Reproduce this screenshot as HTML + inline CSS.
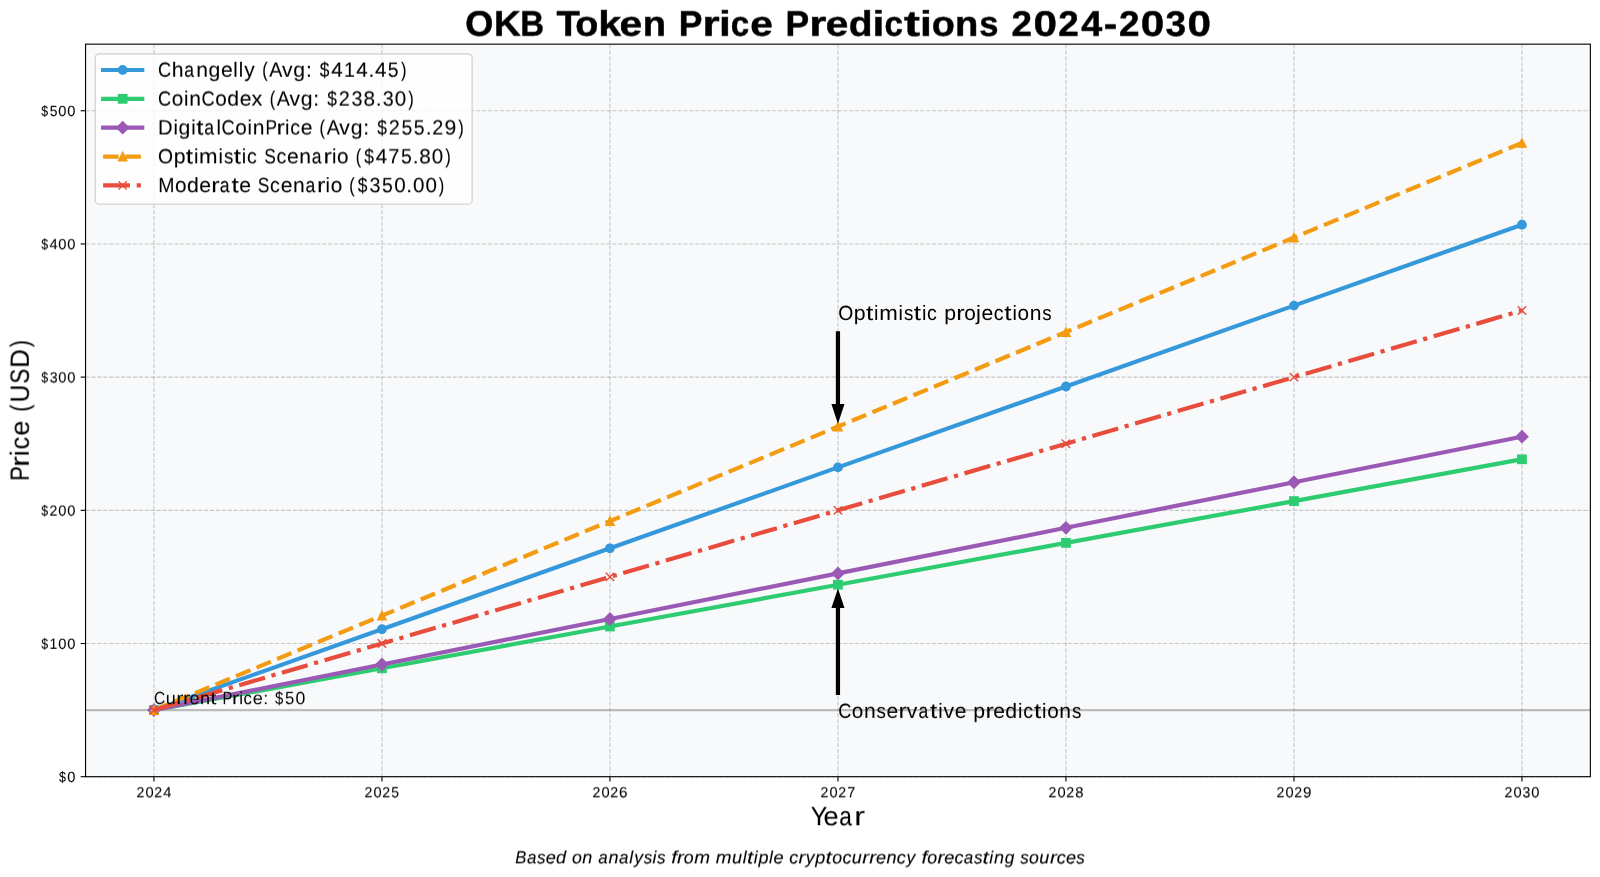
<!DOCTYPE html>
<html><head><meta charset="utf-8"><title>OKB Token Price Predictions 2024-2030</title><style>
html,body{margin:0;padding:0;background:#fff;width:1600px;height:877px;overflow:hidden}
svg{display:block}
text{font-family:"Liberation Sans",sans-serif;will-change:transform;text-rendering:geometricPrecision}
</style></head><body>
<svg width="1600" height="877" viewBox="0 0 1600 877">
<rect x="0" y="0" width="1600" height="877" fill="#fff"/>
<rect x="85.54" y="44.16" width="1504.82" height="732.54" fill="#f8f9fa"/>
<g stroke="#b0b0b0" stroke-opacity="0.7" stroke-width="1.12" stroke-dasharray="4.13 1.79" fill="none">
<path d="M153.94 776.7V44.16"/>
<path d="M381.94 776.7V44.16"/>
<path d="M609.95 776.7V44.16"/>
<path d="M837.95 776.7V44.16"/>
<path d="M1065.95 776.7V44.16"/>
<path d="M1293.96 776.7V44.16"/>
<path d="M1521.96 776.7V44.16"/>
<path d="M85.54 776.7H1590.36"/>
<path d="M85.54 643.51H1590.36"/>
<path d="M85.54 510.32H1590.36"/>
<path d="M85.54 377.13H1590.36"/>
<path d="M85.54 243.94H1590.36"/>
<path d="M85.54 110.75H1590.36"/>
</g>
<g stroke="#000" stroke-width="1.12">
<path d="M153.94 776.7v4.89"/>
<path d="M381.94 776.7v4.89"/>
<path d="M609.95 776.7v4.89"/>
<path d="M837.95 776.7v4.89"/>
<path d="M1065.95 776.7v4.89"/>
<path d="M1293.96 776.7v4.89"/>
<path d="M1521.96 776.7v4.89"/>
<path d="M85.54 776.7h-4.89"/>
<path d="M85.54 643.51h-4.89"/>
<path d="M85.54 510.32h-4.89"/>
<path d="M85.54 377.13h-4.89"/>
<path d="M85.54 243.94h-4.89"/>
<path d="M85.54 110.75h-4.89"/>
</g>
<text transform="translate(154.06 797.35) rotate(0.01) translate(-154.06 0)" font-size="14.79" fill="#000" stroke="#000" stroke-width="0.08" stroke-linejoin="round"><tspan x="136.51" textLength="7.89" lengthAdjust="spacingAndGlyphs">2</tspan><tspan x="145.41" textLength="8.18" lengthAdjust="spacingAndGlyphs">0</tspan><tspan x="154.25" textLength="7.89" lengthAdjust="spacingAndGlyphs">2</tspan><tspan x="163.16" textLength="8.18" lengthAdjust="spacingAndGlyphs">4</tspan></text>
<text transform="translate(381.85 797.35) rotate(0.01) translate(-381.85 0)" font-size="14.79" fill="#000" stroke="#000" stroke-width="0.08" stroke-linejoin="round"><tspan x="364.51" textLength="7.89" lengthAdjust="spacingAndGlyphs">2</tspan><tspan x="373.42" textLength="8.18" lengthAdjust="spacingAndGlyphs">0</tspan><tspan x="382.25" textLength="7.89" lengthAdjust="spacingAndGlyphs">2</tspan><tspan x="391.34" textLength="7.72" lengthAdjust="spacingAndGlyphs">5</tspan></text>
<text transform="translate(610.02 797.35) rotate(0.01) translate(-610.02 0)" font-size="14.79" fill="#000" stroke="#000" stroke-width="0.08" stroke-linejoin="round"><tspan x="592.51" textLength="7.89" lengthAdjust="spacingAndGlyphs">2</tspan><tspan x="601.42" textLength="8.18" lengthAdjust="spacingAndGlyphs">0</tspan><tspan x="610.26" textLength="7.89" lengthAdjust="spacingAndGlyphs">2</tspan><tspan x="619.02" textLength="8.47" lengthAdjust="spacingAndGlyphs">6</tspan></text>
<text transform="translate(837.87 797.35) rotate(0.01) translate(-837.87 0)" font-size="14.79" fill="#000" stroke="#000" stroke-width="0.08" stroke-linejoin="round"><tspan x="820.51" textLength="7.89" lengthAdjust="spacingAndGlyphs">2</tspan><tspan x="829.42" textLength="8.18" lengthAdjust="spacingAndGlyphs">0</tspan><tspan x="838.26" textLength="7.89" lengthAdjust="spacingAndGlyphs">2</tspan><tspan x="847.23" textLength="8" lengthAdjust="spacingAndGlyphs">7</tspan></text>
<text transform="translate(1065.99 797.35) rotate(0.01) translate(-1065.99 0)" font-size="14.79" fill="#000" stroke="#000" stroke-width="0.08" stroke-linejoin="round"><tspan x="1048.52" textLength="7.89" lengthAdjust="spacingAndGlyphs">2</tspan><tspan x="1057.43" textLength="8.18" lengthAdjust="spacingAndGlyphs">0</tspan><tspan x="1066.26" textLength="7.89" lengthAdjust="spacingAndGlyphs">2</tspan><tspan x="1075.13" textLength="8.27" lengthAdjust="spacingAndGlyphs">8</tspan></text>
<text transform="translate(1293.98 797.35) rotate(0.01) translate(-1293.98 0)" font-size="14.79" fill="#000" stroke="#000" stroke-width="0.08" stroke-linejoin="round"><tspan x="1276.52" textLength="7.89" lengthAdjust="spacingAndGlyphs">2</tspan><tspan x="1285.43" textLength="8.18" lengthAdjust="spacingAndGlyphs">0</tspan><tspan x="1294.26" textLength="7.89" lengthAdjust="spacingAndGlyphs">2</tspan><tspan x="1302.99" textLength="8.45" lengthAdjust="spacingAndGlyphs">9</tspan></text>
<text transform="translate(1522.01 797.35) rotate(0.01) translate(-1522.01 0)" font-size="14.79" fill="#000" stroke="#000" stroke-width="0.08" stroke-linejoin="round"><tspan x="1504.52" textLength="7.89" lengthAdjust="spacingAndGlyphs">2</tspan><tspan x="1513.43" textLength="8.18" lengthAdjust="spacingAndGlyphs">0</tspan><tspan x="1522.48" textLength="7.86" lengthAdjust="spacingAndGlyphs">3</tspan><tspan x="1531.18" textLength="8.18" lengthAdjust="spacingAndGlyphs">0</tspan></text>
<text transform="translate(67.02 782.03) rotate(0.01) translate(-67.02 0)" font-size="14.79" fill="#000" stroke="#000" stroke-width="0.08" stroke-linejoin="round"><tspan x="59.05" textLength="6.9" lengthAdjust="spacingAndGlyphs">$</tspan><tspan x="67.24" textLength="8.18" lengthAdjust="spacingAndGlyphs">0</tspan></text>
<text transform="translate(58.14 648.84) rotate(0.01) translate(-58.14 0)" font-size="14.79" fill="#000" stroke="#000" stroke-width="0.08" stroke-linejoin="round"><tspan x="41.31" textLength="6.9" lengthAdjust="spacingAndGlyphs">$</tspan><tspan x="49.61" textLength="7.82" lengthAdjust="spacingAndGlyphs">1</tspan><tspan x="58.37" textLength="8.18" lengthAdjust="spacingAndGlyphs">0</tspan><tspan x="67.24" textLength="8.18" lengthAdjust="spacingAndGlyphs">0</tspan></text>
<text transform="translate(58.14 515.65) rotate(0.01) translate(-58.14 0)" font-size="14.79" fill="#000" stroke="#000" stroke-width="0.08" stroke-linejoin="round"><tspan x="41.31" textLength="6.9" lengthAdjust="spacingAndGlyphs">$</tspan><tspan x="49.46" textLength="7.89" lengthAdjust="spacingAndGlyphs">2</tspan><tspan x="58.37" textLength="8.18" lengthAdjust="spacingAndGlyphs">0</tspan><tspan x="67.24" textLength="8.18" lengthAdjust="spacingAndGlyphs">0</tspan></text>
<text transform="translate(58.14 382.46) rotate(0.01) translate(-58.14 0)" font-size="14.79" fill="#000" stroke="#000" stroke-width="0.08" stroke-linejoin="round"><tspan x="41.31" textLength="6.9" lengthAdjust="spacingAndGlyphs">$</tspan><tspan x="49.68" textLength="7.86" lengthAdjust="spacingAndGlyphs">3</tspan><tspan x="58.37" textLength="8.18" lengthAdjust="spacingAndGlyphs">0</tspan><tspan x="67.24" textLength="8.18" lengthAdjust="spacingAndGlyphs">0</tspan></text>
<text transform="translate(58.14 249.27) rotate(0.01) translate(-58.14 0)" font-size="14.79" fill="#000" stroke="#000" stroke-width="0.08" stroke-linejoin="round"><tspan x="41.31" textLength="6.9" lengthAdjust="spacingAndGlyphs">$</tspan><tspan x="49.5" textLength="8.18" lengthAdjust="spacingAndGlyphs">4</tspan><tspan x="58.37" textLength="8.18" lengthAdjust="spacingAndGlyphs">0</tspan><tspan x="67.24" textLength="8.18" lengthAdjust="spacingAndGlyphs">0</tspan></text>
<text transform="translate(58.14 116.08) rotate(0.01) translate(-58.14 0)" font-size="14.79" fill="#000" stroke="#000" stroke-width="0.08" stroke-linejoin="round"><tspan x="41.31" textLength="6.9" lengthAdjust="spacingAndGlyphs">$</tspan><tspan x="49.67" textLength="7.72" lengthAdjust="spacingAndGlyphs">5</tspan><tspan x="58.37" textLength="8.18" lengthAdjust="spacingAndGlyphs">0</tspan><tspan x="67.24" textLength="8.18" lengthAdjust="spacingAndGlyphs">0</tspan></text>
<path d="M85.54 710.11H1590.36" stroke="#808080" stroke-opacity="0.5" stroke-width="2.09" fill="none"/>
<path d="M153.94 710.11 L381.94 629.2 L609.95 548.3 L837.95 467.4 L1065.95 386.5 L1293.96 305.6 L1521.96 224.7" fill="none" stroke="#3498db" stroke-width="4.19" stroke-linecap="square" stroke-linejoin="round"/>
<circle cx="153.94" cy="710.11" r="4.19" fill="#3498db" stroke="#3498db" stroke-width="1.4"/>
<circle cx="381.94" cy="629.2" r="4.19" fill="#3498db" stroke="#3498db" stroke-width="1.4"/>
<circle cx="609.95" cy="548.3" r="4.19" fill="#3498db" stroke="#3498db" stroke-width="1.4"/>
<circle cx="837.95" cy="467.4" r="4.19" fill="#3498db" stroke="#3498db" stroke-width="1.4"/>
<circle cx="1065.95" cy="386.5" r="4.19" fill="#3498db" stroke="#3498db" stroke-width="1.4"/>
<circle cx="1293.96" cy="305.6" r="4.19" fill="#3498db" stroke="#3498db" stroke-width="1.4"/>
<circle cx="1521.96" cy="224.7" r="4.19" fill="#3498db" stroke="#3498db" stroke-width="1.4"/>
<path d="M153.94 710.11 L381.94 668.31 L609.95 626.51 L837.95 584.71 L1065.95 542.91 L1293.96 501.11 L1521.96 459.31" fill="none" stroke="#2ecc71" stroke-width="4.19" stroke-linecap="square" stroke-linejoin="round"/>
<rect x="149.75" y="705.92" width="8.37" height="8.37" fill="#2ecc71" stroke="#2ecc71" stroke-width="1.4"/>
<rect x="377.76" y="664.12" width="8.37" height="8.37" fill="#2ecc71" stroke="#2ecc71" stroke-width="1.4"/>
<rect x="605.76" y="622.32" width="8.37" height="8.37" fill="#2ecc71" stroke="#2ecc71" stroke-width="1.4"/>
<rect x="833.76" y="580.52" width="8.37" height="8.37" fill="#2ecc71" stroke="#2ecc71" stroke-width="1.4"/>
<rect x="1061.77" y="538.72" width="8.37" height="8.37" fill="#2ecc71" stroke="#2ecc71" stroke-width="1.4"/>
<rect x="1289.77" y="496.92" width="8.37" height="8.37" fill="#2ecc71" stroke="#2ecc71" stroke-width="1.4"/>
<rect x="1517.77" y="455.12" width="8.37" height="8.37" fill="#2ecc71" stroke="#2ecc71" stroke-width="1.4"/>
<path d="M153.94 710.11 L381.94 664.53 L609.95 618.96 L837.95 573.39 L1065.95 527.82 L1293.96 482.25 L1521.96 436.68" fill="none" stroke="#9b59b6" stroke-width="4.19" stroke-linecap="square" stroke-linejoin="round"/>
<path d="M153.94 704.18L159.86 710.11L153.94 716.03L148.02 710.11Z" fill="#9b59b6" stroke="#9b59b6" stroke-width="1.4"/>
<path d="M381.94 658.61L387.87 664.53L381.94 670.46L376.02 664.53Z" fill="#9b59b6" stroke="#9b59b6" stroke-width="1.4"/>
<path d="M609.95 613.04L615.87 618.96L609.95 624.89L604.02 618.96Z" fill="#9b59b6" stroke="#9b59b6" stroke-width="1.4"/>
<path d="M837.95 567.47L843.87 573.39L837.95 579.32L832.03 573.39Z" fill="#9b59b6" stroke="#9b59b6" stroke-width="1.4"/>
<path d="M1065.95 521.9L1071.88 527.82L1065.95 533.74L1060.03 527.82Z" fill="#9b59b6" stroke="#9b59b6" stroke-width="1.4"/>
<path d="M1293.96 476.33L1299.88 482.25L1293.96 488.17L1288.03 482.25Z" fill="#9b59b6" stroke="#9b59b6" stroke-width="1.4"/>
<path d="M1521.96 430.76L1527.88 436.68L1521.96 442.6L1516.04 436.68Z" fill="#9b59b6" stroke="#9b59b6" stroke-width="1.4"/>
<path d="M153.94 710.11 L381.94 615.59 L609.95 521.07 L837.95 426.55 L1065.95 332.03 L1293.96 237.51 L1521.96 142.99" fill="none" stroke="#f39c12" stroke-width="4.19" stroke-linecap="butt" stroke-linejoin="round" stroke-dasharray="15.51 6.71"/>
<path d="M153.94 705.92L149.75 714.29L158.13 714.29Z" fill="#f39c12" stroke="#f39c12" stroke-width="1.4"/>
<path d="M381.94 611.4L377.76 619.77L386.13 619.77Z" fill="#f39c12" stroke="#f39c12" stroke-width="1.4"/>
<path d="M609.95 516.88L605.76 525.25L614.13 525.25Z" fill="#f39c12" stroke="#f39c12" stroke-width="1.4"/>
<path d="M837.95 422.36L833.76 430.73L842.14 430.73Z" fill="#f39c12" stroke="#f39c12" stroke-width="1.4"/>
<path d="M1065.95 327.84L1061.77 336.21L1070.14 336.21Z" fill="#f39c12" stroke="#f39c12" stroke-width="1.4"/>
<path d="M1293.96 233.32L1289.77 241.69L1298.14 241.69Z" fill="#f39c12" stroke="#f39c12" stroke-width="1.4"/>
<path d="M1521.96 138.8L1517.77 147.17L1526.15 147.17Z" fill="#f39c12" stroke="#f39c12" stroke-width="1.4"/>
<path d="M153.94 710.11 L381.94 643.51 L609.95 576.92 L837.95 510.32 L1065.95 443.73 L1293.96 377.13 L1521.96 310.54" fill="none" stroke="#e74c3c" stroke-width="4.19" stroke-linecap="butt" stroke-linejoin="round" stroke-dasharray="26.83 6.71 4.19 6.71"/>
<path d="M149.75 714.29L158.13 705.92M149.75 705.92L158.13 714.29" fill="none" stroke="#e74c3c" stroke-width="1.4"/>
<path d="M377.76 647.7L386.13 639.32M377.76 639.32L386.13 647.7" fill="none" stroke="#e74c3c" stroke-width="1.4"/>
<path d="M605.76 581.1L614.13 572.73M605.76 572.73L614.13 581.1" fill="none" stroke="#e74c3c" stroke-width="1.4"/>
<path d="M833.76 514.51L842.14 506.13M833.76 506.13L842.14 514.51" fill="none" stroke="#e74c3c" stroke-width="1.4"/>
<path d="M1061.77 447.91L1070.14 439.54M1061.77 439.54L1070.14 447.91" fill="none" stroke="#e74c3c" stroke-width="1.4"/>
<path d="M1289.77 381.32L1298.14 372.95M1289.77 372.95L1298.14 381.32" fill="none" stroke="#e74c3c" stroke-width="1.4"/>
<path d="M1517.77 314.73L1526.15 306.35M1517.77 306.35L1526.15 314.73" fill="none" stroke="#e74c3c" stroke-width="1.4"/>
<rect x="85.54" y="44.16" width="1504.82" height="732.54" fill="none" stroke="#000" stroke-width="1.12" stroke-linejoin="miter"/>
<text transform="translate(229.73 704.15) rotate(0.01) translate(-229.73 0)" font-size="17.75" fill="#000"><tspan x="154.09" textLength="11.23" lengthAdjust="spacingAndGlyphs">C</tspan><tspan x="165.86" textLength="10.04" lengthAdjust="spacingAndGlyphs">u</tspan><tspan x="176.29" textLength="7.15" lengthAdjust="spacingAndGlyphs">r</tspan><tspan x="182.91" textLength="7.15" lengthAdjust="spacingAndGlyphs">r</tspan><tspan x="189.46" textLength="10.06" lengthAdjust="spacingAndGlyphs">e</tspan><tspan x="199.91" textLength="10.04" lengthAdjust="spacingAndGlyphs">n</tspan><tspan x="210.29" textLength="6.22" lengthAdjust="spacingAndGlyphs">t</tspan> <tspan x="222.47" textLength="9.88" lengthAdjust="spacingAndGlyphs">P</tspan><tspan x="231.96" textLength="7.15" lengthAdjust="spacingAndGlyphs">r</tspan><tspan x="239.16" textLength="3.8" lengthAdjust="spacingAndGlyphs">i</tspan><tspan x="243.58" textLength="8.4" lengthAdjust="spacingAndGlyphs">c</tspan><tspan x="252.72" textLength="10.06" lengthAdjust="spacingAndGlyphs">e</tspan><tspan x="263.15" textLength="5.04" lengthAdjust="spacingAndGlyphs">:</tspan> <tspan x="275.01" textLength="8.28" lengthAdjust="spacingAndGlyphs">$</tspan><tspan x="285.03" textLength="9.27" lengthAdjust="spacingAndGlyphs">5</tspan><tspan x="295.45" textLength="9.82" lengthAdjust="spacingAndGlyphs">0</tspan></text>
<path d="M839.35 331.9 L839.35 404.67 L843.53 404.67 L837.95 421.42 L832.37 404.67 L836.55 404.67 L836.55 331.9Z" fill="#000" stroke="#000" stroke-width="1.4" stroke-linejoin="miter" stroke-miterlimit="10"/>
<path d="M839.35 694.21 L839.35 607.37 L843.53 607.37 L837.95 590.62 L832.37 607.37 L836.55 607.37 L836.55 694.21Z" fill="#000" stroke="#000" stroke-width="1.4" stroke-linejoin="miter" stroke-miterlimit="10"/>
<text transform="translate(945.01 319.99) rotate(0.01) translate(-945.01 0)" font-size="20.71" fill="#000" stroke="#000" stroke-width="0.03" stroke-linejoin="round"><tspan x="838.13" textLength="15.03" lengthAdjust="spacingAndGlyphs">O</tspan><tspan x="853.78" textLength="11.82" lengthAdjust="spacingAndGlyphs">p</tspan><tspan x="865.94" textLength="7.26" lengthAdjust="spacingAndGlyphs">t</tspan><tspan x="874" textLength="4.44" lengthAdjust="spacingAndGlyphs">i</tspan><tspan x="879.24" textLength="18.55" lengthAdjust="spacingAndGlyphs">m</tspan><tspan x="898.54" textLength="4.44" lengthAdjust="spacingAndGlyphs">i</tspan><tspan x="904.02" textLength="9.37" lengthAdjust="spacingAndGlyphs">s</tspan><tspan x="913.82" textLength="7.26" lengthAdjust="spacingAndGlyphs">t</tspan><tspan x="921.88" textLength="4.44" lengthAdjust="spacingAndGlyphs">i</tspan><tspan x="927.06" textLength="9.8" lengthAdjust="spacingAndGlyphs">c</tspan> <tspan x="944.23" textLength="11.82" lengthAdjust="spacingAndGlyphs">p</tspan><tspan x="956.37" textLength="8.34" lengthAdjust="spacingAndGlyphs">r</tspan><tspan x="964.15" textLength="11.55" lengthAdjust="spacingAndGlyphs">o</tspan><tspan x="976.12" textLength="4.9" lengthAdjust="spacingAndGlyphs">j</tspan><tspan x="981.56" textLength="11.74" lengthAdjust="spacingAndGlyphs">e</tspan><tspan x="993.68" textLength="9.8" lengthAdjust="spacingAndGlyphs">c</tspan><tspan x="1004.34" textLength="7.26" lengthAdjust="spacingAndGlyphs">t</tspan><tspan x="1012.4" textLength="4.44" lengthAdjust="spacingAndGlyphs">i</tspan><tspan x="1017.54" textLength="11.55" lengthAdjust="spacingAndGlyphs">o</tspan><tspan x="1029.7" textLength="11.72" lengthAdjust="spacingAndGlyphs">n</tspan><tspan x="1042.29" textLength="9.37" lengthAdjust="spacingAndGlyphs">s</tspan></text>
<text transform="translate(959.82 717.9) rotate(0.01) translate(-959.82 0)" font-size="20.71" fill="#000" stroke="#000" stroke-width="0.03" stroke-linejoin="round"><tspan x="838.13" textLength="13.1" lengthAdjust="spacingAndGlyphs">C</tspan><tspan x="851.84" textLength="11.55" lengthAdjust="spacingAndGlyphs">o</tspan><tspan x="864" textLength="11.72" lengthAdjust="spacingAndGlyphs">n</tspan><tspan x="876.58" textLength="9.37" lengthAdjust="spacingAndGlyphs">s</tspan><tspan x="886.44" textLength="11.74" lengthAdjust="spacingAndGlyphs">e</tspan><tspan x="898.42" textLength="8.34" lengthAdjust="spacingAndGlyphs">r</tspan><tspan x="906.88" textLength="10.54" lengthAdjust="spacingAndGlyphs">v</tspan><tspan x="918.39" textLength="9.77" lengthAdjust="spacingAndGlyphs">a</tspan><tspan x="930.11" textLength="7.26" lengthAdjust="spacingAndGlyphs">t</tspan><tspan x="938.17" textLength="4.44" lengthAdjust="spacingAndGlyphs">i</tspan><tspan x="943.61" textLength="10.54" lengthAdjust="spacingAndGlyphs">v</tspan><tspan x="954.88" textLength="11.74" lengthAdjust="spacingAndGlyphs">e</tspan> <tspan x="973.39" textLength="11.82" lengthAdjust="spacingAndGlyphs">p</tspan><tspan x="985.54" textLength="8.34" lengthAdjust="spacingAndGlyphs">r</tspan><tspan x="993.29" textLength="11.74" lengthAdjust="spacingAndGlyphs">e</tspan><tspan x="1005.35" textLength="11.81" lengthAdjust="spacingAndGlyphs">d</tspan><tspan x="1018.11" textLength="4.44" lengthAdjust="spacingAndGlyphs">i</tspan><tspan x="1023.3" textLength="9.8" lengthAdjust="spacingAndGlyphs">c</tspan><tspan x="1033.96" textLength="7.26" lengthAdjust="spacingAndGlyphs">t</tspan><tspan x="1042.01" textLength="4.44" lengthAdjust="spacingAndGlyphs">i</tspan><tspan x="1047.16" textLength="11.55" lengthAdjust="spacingAndGlyphs">o</tspan><tspan x="1059.32" textLength="11.72" lengthAdjust="spacingAndGlyphs">n</tspan><tspan x="1071.9" textLength="9.37" lengthAdjust="spacingAndGlyphs">s</tspan></text>
<rect x="95.31" y="53.93" width="376.83" height="150.2" rx="3.91" ry="3.91" fill="#fff" fill-opacity="0.8" stroke="#ccc" stroke-opacity="0.8" stroke-width="1.4"/>
<path d="M103.13 69.98 L142.21 69.98" fill="none" stroke="#3498db" stroke-width="4.19" stroke-linecap="square" stroke-linejoin="round"/>
<circle cx="122.67" cy="69.98" r="4.19" fill="#3498db" stroke="#3498db" stroke-width="1.4"/>
<text transform="translate(282.15 76.76) rotate(0.01) translate(-282.15 0)" font-size="20.71" fill="#000" stroke="#000" stroke-width="0.08" stroke-linejoin="round"><tspan x="158.02" textLength="13.1" lengthAdjust="spacingAndGlyphs">C</tspan><tspan x="171.83" textLength="11.8" lengthAdjust="spacingAndGlyphs">h</tspan><tspan x="184.37" textLength="9.77" lengthAdjust="spacingAndGlyphs">a</tspan><tspan x="196.33" textLength="11.72" lengthAdjust="spacingAndGlyphs">n</tspan><tspan x="208.56" textLength="11.81" lengthAdjust="spacingAndGlyphs">g</tspan><tspan x="221" textLength="11.74" lengthAdjust="spacingAndGlyphs">e</tspan><tspan x="233.37" textLength="4.44" lengthAdjust="spacingAndGlyphs">l</tspan><tspan x="238.81" textLength="4.44" lengthAdjust="spacingAndGlyphs">l</tspan><tspan x="244.29" textLength="10.49" lengthAdjust="spacingAndGlyphs">y</tspan> <tspan x="262.24" textLength="5.5" lengthAdjust="spacingAndGlyphs">(</tspan><tspan x="269.35" textLength="13.13" lengthAdjust="spacingAndGlyphs">A</tspan><tspan x="282.02" textLength="10.54" lengthAdjust="spacingAndGlyphs">v</tspan><tspan x="293.29" textLength="11.81" lengthAdjust="spacingAndGlyphs">g</tspan><tspan x="305.91" textLength="5.87" lengthAdjust="spacingAndGlyphs">:</tspan> <tspan x="319.81" textLength="9.66" lengthAdjust="spacingAndGlyphs">$</tspan><tspan x="331.33" textLength="11.46" lengthAdjust="spacingAndGlyphs">4</tspan><tspan x="343.96" textLength="10.94" lengthAdjust="spacingAndGlyphs">1</tspan><tspan x="356.27" textLength="11.46" lengthAdjust="spacingAndGlyphs">4</tspan><tspan x="368.41" textLength="5.87" lengthAdjust="spacingAndGlyphs">.</tspan><tspan x="374.96" textLength="11.46" lengthAdjust="spacingAndGlyphs">4</tspan><tspan x="387.68" textLength="10.81" lengthAdjust="spacingAndGlyphs">5</tspan><tspan x="400.89" textLength="5.5" lengthAdjust="spacingAndGlyphs">)</tspan></text>
<path d="M103.13 98.84 L142.21 98.84" fill="none" stroke="#2ecc71" stroke-width="4.19" stroke-linecap="square" stroke-linejoin="round"/>
<rect x="118.48" y="94.66" width="8.37" height="8.37" fill="#2ecc71" stroke="#2ecc71" stroke-width="1.4"/>
<text transform="translate(285.86 105.63) rotate(0.01) translate(-285.86 0)" font-size="20.71" fill="#000" stroke="#000" stroke-width="0.08" stroke-linejoin="round"><tspan x="158.02" textLength="13.1" lengthAdjust="spacingAndGlyphs">C</tspan><tspan x="171.73" textLength="11.55" lengthAdjust="spacingAndGlyphs">o</tspan><tspan x="184.02" textLength="4.44" lengthAdjust="spacingAndGlyphs">i</tspan><tspan x="189.33" textLength="11.72" lengthAdjust="spacingAndGlyphs">n</tspan><tspan x="201.56" textLength="13.1" lengthAdjust="spacingAndGlyphs">C</tspan><tspan x="215.27" textLength="11.55" lengthAdjust="spacingAndGlyphs">o</tspan><tspan x="227.24" textLength="11.81" lengthAdjust="spacingAndGlyphs">d</tspan><tspan x="239.67" textLength="11.74" lengthAdjust="spacingAndGlyphs">e</tspan><tspan x="251.49" textLength="10.84" lengthAdjust="spacingAndGlyphs">x</tspan> <tspan x="269.66" textLength="5.5" lengthAdjust="spacingAndGlyphs">(</tspan><tspan x="276.76" textLength="13.13" lengthAdjust="spacingAndGlyphs">A</tspan><tspan x="289.43" textLength="10.54" lengthAdjust="spacingAndGlyphs">v</tspan><tspan x="300.71" textLength="11.81" lengthAdjust="spacingAndGlyphs">g</tspan><tspan x="313.32" textLength="5.87" lengthAdjust="spacingAndGlyphs">:</tspan> <tspan x="327.23" textLength="9.66" lengthAdjust="spacingAndGlyphs">$</tspan><tspan x="338.69" textLength="11.04" lengthAdjust="spacingAndGlyphs">2</tspan><tspan x="351.46" textLength="11" lengthAdjust="spacingAndGlyphs">3</tspan><tspan x="363.62" textLength="11.58" lengthAdjust="spacingAndGlyphs">8</tspan><tspan x="375.82" textLength="5.87" lengthAdjust="spacingAndGlyphs">.</tspan><tspan x="382.63" textLength="11" lengthAdjust="spacingAndGlyphs">3</tspan><tspan x="394.85" textLength="11.46" lengthAdjust="spacingAndGlyphs">0</tspan><tspan x="408.3" textLength="5.5" lengthAdjust="spacingAndGlyphs">)</tspan></text>
<path d="M103.13 127.71 L142.21 127.71" fill="none" stroke="#9b59b6" stroke-width="4.19" stroke-linecap="square" stroke-linejoin="round"/>
<path d="M122.67 121.79L128.59 127.71L122.67 133.63L116.75 127.71Z" fill="#9b59b6" stroke="#9b59b6" stroke-width="1.4"/>
<text transform="translate(311.24 134.49) rotate(0.01) translate(-311.24 0)" font-size="20.71" fill="#000" stroke="#000" stroke-width="0.08" stroke-linejoin="round"><tspan x="158.1" textLength="14.6" lengthAdjust="spacingAndGlyphs">D</tspan><tspan x="173.44" textLength="4.44" lengthAdjust="spacingAndGlyphs">i</tspan><tspan x="178.56" textLength="11.81" lengthAdjust="spacingAndGlyphs">g</tspan><tspan x="191.32" textLength="4.44" lengthAdjust="spacingAndGlyphs">i</tspan><tspan x="196.39" textLength="7.26" lengthAdjust="spacingAndGlyphs">t</tspan><tspan x="204.37" textLength="9.77" lengthAdjust="spacingAndGlyphs">a</tspan><tspan x="216.45" textLength="4.44" lengthAdjust="spacingAndGlyphs">l</tspan><tspan x="221.57" textLength="13.1" lengthAdjust="spacingAndGlyphs">C</tspan><tspan x="235.29" textLength="11.55" lengthAdjust="spacingAndGlyphs">o</tspan><tspan x="247.58" textLength="4.44" lengthAdjust="spacingAndGlyphs">i</tspan><tspan x="252.89" textLength="11.72" lengthAdjust="spacingAndGlyphs">n</tspan><tspan x="265.44" textLength="11.53" lengthAdjust="spacingAndGlyphs">P</tspan><tspan x="276.49" textLength="8.34" lengthAdjust="spacingAndGlyphs">r</tspan><tspan x="284.94" textLength="4.44" lengthAdjust="spacingAndGlyphs">i</tspan><tspan x="290.13" textLength="9.8" lengthAdjust="spacingAndGlyphs">c</tspan><tspan x="300.84" textLength="11.74" lengthAdjust="spacingAndGlyphs">e</tspan> <tspan x="319.6" textLength="5.5" lengthAdjust="spacingAndGlyphs">(</tspan><tspan x="326.7" textLength="13.13" lengthAdjust="spacingAndGlyphs">A</tspan><tspan x="339.37" textLength="10.54" lengthAdjust="spacingAndGlyphs">v</tspan><tspan x="350.65" textLength="11.81" lengthAdjust="spacingAndGlyphs">g</tspan><tspan x="363.26" textLength="5.87" lengthAdjust="spacingAndGlyphs">:</tspan> <tspan x="377.17" textLength="9.66" lengthAdjust="spacingAndGlyphs">$</tspan><tspan x="388.63" textLength="11.04" lengthAdjust="spacingAndGlyphs">2</tspan><tspan x="401.4" textLength="10.81" lengthAdjust="spacingAndGlyphs">5</tspan><tspan x="413.87" textLength="10.81" lengthAdjust="spacingAndGlyphs">5</tspan><tspan x="425.77" textLength="5.87" lengthAdjust="spacingAndGlyphs">.</tspan><tspan x="432.27" textLength="11.04" lengthAdjust="spacingAndGlyphs">2</tspan><tspan x="444.54" textLength="11.83" lengthAdjust="spacingAndGlyphs">9</tspan><tspan x="458.24" textLength="5.5" lengthAdjust="spacingAndGlyphs">)</tspan></text>
<path d="M103.13 156.58 L142.21 156.58" fill="none" stroke="#f39c12" stroke-width="4.19" stroke-linecap="butt" stroke-linejoin="round" stroke-dasharray="15.51 6.71"/>
<path d="M122.67 152.39L118.48 160.76L126.86 160.76Z" fill="#f39c12" stroke="#f39c12" stroke-width="1.4"/>
<text transform="translate(304.35 163.36) rotate(0.01) translate(-304.35 0)" font-size="20.71" fill="#000" stroke="#000" stroke-width="0.08" stroke-linejoin="round"><tspan x="158.02" textLength="15.03" lengthAdjust="spacingAndGlyphs">O</tspan><tspan x="173.67" textLength="11.82" lengthAdjust="spacingAndGlyphs">p</tspan><tspan x="185.83" textLength="7.26" lengthAdjust="spacingAndGlyphs">t</tspan><tspan x="193.89" textLength="4.44" lengthAdjust="spacingAndGlyphs">i</tspan><tspan x="199.13" textLength="18.55" lengthAdjust="spacingAndGlyphs">m</tspan><tspan x="218.43" textLength="4.44" lengthAdjust="spacingAndGlyphs">i</tspan><tspan x="223.91" textLength="9.37" lengthAdjust="spacingAndGlyphs">s</tspan><tspan x="233.71" textLength="7.26" lengthAdjust="spacingAndGlyphs">t</tspan><tspan x="241.77" textLength="4.44" lengthAdjust="spacingAndGlyphs">i</tspan><tspan x="246.95" textLength="9.8" lengthAdjust="spacingAndGlyphs">c</tspan> <tspan x="264.21" textLength="11.62" lengthAdjust="spacingAndGlyphs">S</tspan><tspan x="276.4" textLength="9.8" lengthAdjust="spacingAndGlyphs">c</tspan><tspan x="287.11" textLength="11.74" lengthAdjust="spacingAndGlyphs">e</tspan><tspan x="299.36" textLength="11.72" lengthAdjust="spacingAndGlyphs">n</tspan><tspan x="311.83" textLength="9.77" lengthAdjust="spacingAndGlyphs">a</tspan><tspan x="323.53" textLength="8.34" lengthAdjust="spacingAndGlyphs">r</tspan><tspan x="331.98" textLength="4.44" lengthAdjust="spacingAndGlyphs">i</tspan><tspan x="337.12" textLength="11.55" lengthAdjust="spacingAndGlyphs">o</tspan> <tspan x="355.79" textLength="5.5" lengthAdjust="spacingAndGlyphs">(</tspan><tspan x="364.22" textLength="9.66" lengthAdjust="spacingAndGlyphs">$</tspan><tspan x="375.73" textLength="11.46" lengthAdjust="spacingAndGlyphs">4</tspan><tspan x="388.29" textLength="11.21" lengthAdjust="spacingAndGlyphs">7</tspan><tspan x="400.92" textLength="10.81" lengthAdjust="spacingAndGlyphs">5</tspan><tspan x="412.81" textLength="5.87" lengthAdjust="spacingAndGlyphs">.</tspan><tspan x="419.31" textLength="11.58" lengthAdjust="spacingAndGlyphs">8</tspan><tspan x="431.84" textLength="11.46" lengthAdjust="spacingAndGlyphs">0</tspan><tspan x="445.29" textLength="5.5" lengthAdjust="spacingAndGlyphs">)</tspan></text>
<path d="M103.13 185.44 L142.21 185.44" fill="none" stroke="#e74c3c" stroke-width="4.19" stroke-linecap="butt" stroke-linejoin="round" stroke-dasharray="26.83 6.71 4.19 6.71"/>
<path d="M118.48 189.63L126.86 181.25M118.48 181.25L126.86 189.63" fill="none" stroke="#e74c3c" stroke-width="1.4"/>
<text transform="translate(301.54 192.22) rotate(0.01) translate(-301.54 0)" font-size="20.71" fill="#000" stroke="#000" stroke-width="0.08" stroke-linejoin="round"><tspan x="158.16" textLength="16.23" lengthAdjust="spacingAndGlyphs">M</tspan><tspan x="174.95" textLength="11.55" lengthAdjust="spacingAndGlyphs">o</tspan><tspan x="186.92" textLength="11.81" lengthAdjust="spacingAndGlyphs">d</tspan><tspan x="199.36" textLength="11.74" lengthAdjust="spacingAndGlyphs">e</tspan><tspan x="211.35" textLength="8.34" lengthAdjust="spacingAndGlyphs">r</tspan><tspan x="219.72" textLength="9.77" lengthAdjust="spacingAndGlyphs">a</tspan><tspan x="231.43" textLength="7.26" lengthAdjust="spacingAndGlyphs">t</tspan><tspan x="239.17" textLength="11.74" lengthAdjust="spacingAndGlyphs">e</tspan> <tspan x="257.77" textLength="11.62" lengthAdjust="spacingAndGlyphs">S</tspan><tspan x="269.96" textLength="9.8" lengthAdjust="spacingAndGlyphs">c</tspan><tspan x="280.67" textLength="11.74" lengthAdjust="spacingAndGlyphs">e</tspan><tspan x="292.92" textLength="11.72" lengthAdjust="spacingAndGlyphs">n</tspan><tspan x="305.39" textLength="9.77" lengthAdjust="spacingAndGlyphs">a</tspan><tspan x="317.09" textLength="8.34" lengthAdjust="spacingAndGlyphs">r</tspan><tspan x="325.54" textLength="4.44" lengthAdjust="spacingAndGlyphs">i</tspan><tspan x="330.68" textLength="11.55" lengthAdjust="spacingAndGlyphs">o</tspan> <tspan x="349.35" textLength="5.5" lengthAdjust="spacingAndGlyphs">(</tspan><tspan x="357.78" textLength="9.66" lengthAdjust="spacingAndGlyphs">$</tspan><tspan x="369.54" textLength="11" lengthAdjust="spacingAndGlyphs">3</tspan><tspan x="382.01" textLength="10.81" lengthAdjust="spacingAndGlyphs">5</tspan><tspan x="394.23" textLength="11.46" lengthAdjust="spacingAndGlyphs">0</tspan><tspan x="406.37" textLength="5.87" lengthAdjust="spacingAndGlyphs">.</tspan><tspan x="412.93" textLength="11.46" lengthAdjust="spacingAndGlyphs">0</tspan><tspan x="425.4" textLength="11.46" lengthAdjust="spacingAndGlyphs">0</tspan><tspan x="438.85" textLength="5.5" lengthAdjust="spacingAndGlyphs">)</tspan></text>
<text transform="translate(837.95 35.78) rotate(0.01) translate(-837.95 0)" font-size="35.5" fill="#000" font-weight="bold" stroke="#000" stroke-width="0.45" stroke-linejoin="round"><tspan x="465.15" textLength="28.13" lengthAdjust="spacingAndGlyphs">O</tspan><tspan x="494.08" textLength="26.72" lengthAdjust="spacingAndGlyphs">K</tspan><tspan x="520.35" textLength="23.81" lengthAdjust="spacingAndGlyphs">B</tspan> <tspan x="556.45" textLength="23.35" lengthAdjust="spacingAndGlyphs">T</tspan><tspan x="575.16" textLength="23.09" lengthAdjust="spacingAndGlyphs">o</tspan><tspan x="598.18" textLength="22.94" lengthAdjust="spacingAndGlyphs">k</tspan><tspan x="619.52" textLength="22.64" lengthAdjust="spacingAndGlyphs">e</tspan><tspan x="642.72" textLength="23.3" lengthAdjust="spacingAndGlyphs">n</tspan> <tspan x="678.68" textLength="23.69" lengthAdjust="spacingAndGlyphs">P</tspan><tspan x="702.46" textLength="17.19" lengthAdjust="spacingAndGlyphs">r</tspan><tspan x="718.94" textLength="11.86" lengthAdjust="spacingAndGlyphs">i</tspan><tspan x="730.74" textLength="18.44" lengthAdjust="spacingAndGlyphs">c</tspan><tspan x="750.33" textLength="22.64" lengthAdjust="spacingAndGlyphs">e</tspan> <tspan x="785.61" textLength="23.69" lengthAdjust="spacingAndGlyphs">P</tspan><tspan x="809.39" textLength="17.19" lengthAdjust="spacingAndGlyphs">r</tspan><tspan x="825.88" textLength="22.64" lengthAdjust="spacingAndGlyphs">e</tspan><tspan x="848.69" textLength="23.83" lengthAdjust="spacingAndGlyphs">d</tspan><tspan x="872.63" textLength="11.86" lengthAdjust="spacingAndGlyphs">i</tspan><tspan x="884.43" textLength="18.44" lengthAdjust="spacingAndGlyphs">c</tspan><tspan x="904.03" textLength="15.97" lengthAdjust="spacingAndGlyphs">t</tspan><tspan x="920.04" textLength="11.86" lengthAdjust="spacingAndGlyphs">i</tspan><tspan x="931.67" textLength="23.09" lengthAdjust="spacingAndGlyphs">o</tspan><tspan x="955.05" textLength="23.3" lengthAdjust="spacingAndGlyphs">n</tspan><tspan x="979.14" textLength="19.26" lengthAdjust="spacingAndGlyphs">s</tspan> <tspan x="1011.64" textLength="20.5" lengthAdjust="spacingAndGlyphs">2</tspan><tspan x="1033.54" textLength="23.51" lengthAdjust="spacingAndGlyphs">0</tspan><tspan x="1058.32" textLength="20.5" lengthAdjust="spacingAndGlyphs">2</tspan><tspan x="1081.22" textLength="21.04" lengthAdjust="spacingAndGlyphs">4</tspan><tspan x="1103.86" textLength="13.47" lengthAdjust="spacingAndGlyphs">-</tspan><tspan x="1118.91" textLength="20.5" lengthAdjust="spacingAndGlyphs">2</tspan><tspan x="1140.81" textLength="23.51" lengthAdjust="spacingAndGlyphs">0</tspan><tspan x="1165.61" textLength="20.59" lengthAdjust="spacingAndGlyphs">3</tspan><tspan x="1187.49" textLength="23.51" lengthAdjust="spacingAndGlyphs">0</tspan></text>
<text transform="translate(837.93 825.24) rotate(0.01) translate(-837.93 0)" font-size="26.62" fill="#000" stroke="#000" stroke-width="0.08" stroke-linejoin="round"><tspan x="810.79" textLength="16.53" lengthAdjust="spacingAndGlyphs">Y</tspan><tspan x="823.57" textLength="15.09" lengthAdjust="spacingAndGlyphs">e</tspan><tspan x="839.34" textLength="12.57" lengthAdjust="spacingAndGlyphs">a</tspan><tspan x="854.33" textLength="10.72" lengthAdjust="spacingAndGlyphs">r</tspan></text>
<text transform="translate(28.8 410.43) rotate(-89.99)" y="0" font-size="26.62" fill="#000" stroke="#000" stroke-width="0.08" stroke-linejoin="round"><tspan x="-70.62" textLength="14.82" lengthAdjust="spacingAndGlyphs">P</tspan><tspan x="-56.47" textLength="10.72" lengthAdjust="spacingAndGlyphs">r</tspan><tspan x="-45.63" textLength="5.71" lengthAdjust="spacingAndGlyphs">i</tspan><tspan x="-38.99" textLength="12.61" lengthAdjust="spacingAndGlyphs">c</tspan><tspan x="-25.25" textLength="15.09" lengthAdjust="spacingAndGlyphs">e</tspan> <tspan x="-1.2" textLength="7.07" lengthAdjust="spacingAndGlyphs">(</tspan><tspan x="8.04" textLength="17.83" lengthAdjust="spacingAndGlyphs">U</tspan><tspan x="26.79" textLength="14.94" lengthAdjust="spacingAndGlyphs">S</tspan><tspan x="42.43" textLength="18.77" lengthAdjust="spacingAndGlyphs">D</tspan><tspan x="63.33" textLength="7.07" lengthAdjust="spacingAndGlyphs">)</tspan></text>
<text transform="translate(800.04 863.4) rotate(0.01) translate(-800.04 0)" font-size="17.75" fill="#000" font-style="italic" stroke="#000" stroke-width="0.1" stroke-linejoin="round"><tspan x="515.16" textLength="11.1" lengthAdjust="spacingAndGlyphs">B</tspan><tspan x="526.99" textLength="9.43" lengthAdjust="spacingAndGlyphs">a</tspan><tspan x="537.07" textLength="8.58" lengthAdjust="spacingAndGlyphs">s</tspan><tspan x="545.79" textLength="10.07" lengthAdjust="spacingAndGlyphs">e</tspan><tspan x="556.07" textLength="10.07" lengthAdjust="spacingAndGlyphs">d</tspan> <tspan x="572.02" textLength="9.85" lengthAdjust="spacingAndGlyphs">o</tspan><tspan x="582.34" textLength="10.01" lengthAdjust="spacingAndGlyphs">n</tspan> <tspan x="598.25" textLength="9.43" lengthAdjust="spacingAndGlyphs">a</tspan><tspan x="608.48" textLength="10.01" lengthAdjust="spacingAndGlyphs">n</tspan><tspan x="619.08" textLength="9.43" lengthAdjust="spacingAndGlyphs">a</tspan><tspan x="629.32" textLength="3.87" lengthAdjust="spacingAndGlyphs">l</tspan><tspan x="634.22" textLength="8.66" lengthAdjust="spacingAndGlyphs">y</tspan><tspan x="643.69" textLength="8.58" lengthAdjust="spacingAndGlyphs">s</tspan><tspan x="652.56" textLength="3.87" lengthAdjust="spacingAndGlyphs">i</tspan><tspan x="657.04" textLength="8.58" lengthAdjust="spacingAndGlyphs">s</tspan> <tspan x="671.34" textLength="5.77" lengthAdjust="spacingAndGlyphs">f</tspan><tspan x="677.04" textLength="6.81" lengthAdjust="spacingAndGlyphs">r</tspan><tspan x="683.85" textLength="9.85" lengthAdjust="spacingAndGlyphs">o</tspan><tspan x="694.16" textLength="15.78" lengthAdjust="spacingAndGlyphs">m</tspan> <tspan x="715.74" textLength="15.78" lengthAdjust="spacingAndGlyphs">m</tspan><tspan x="731.94" textLength="10.02" lengthAdjust="spacingAndGlyphs">u</tspan><tspan x="742.64" textLength="3.87" lengthAdjust="spacingAndGlyphs">l</tspan><tspan x="747.03" textLength="6.25" lengthAdjust="spacingAndGlyphs">t</tspan><tspan x="753.83" textLength="3.87" lengthAdjust="spacingAndGlyphs">i</tspan><tspan x="758.57" textLength="10.04" lengthAdjust="spacingAndGlyphs">p</tspan><tspan x="769.08" textLength="3.87" lengthAdjust="spacingAndGlyphs">l</tspan><tspan x="773.58" textLength="10.07" lengthAdjust="spacingAndGlyphs">e</tspan> <tspan x="789.19" textLength="9" lengthAdjust="spacingAndGlyphs">c</tspan><tspan x="798.44" textLength="6.81" lengthAdjust="spacingAndGlyphs">r</tspan><tspan x="805.63" textLength="8.66" lengthAdjust="spacingAndGlyphs">y</tspan><tspan x="815.35" textLength="10.04" lengthAdjust="spacingAndGlyphs">p</tspan><tspan x="825.61" textLength="6.25" lengthAdjust="spacingAndGlyphs">t</tspan><tspan x="832.3" textLength="9.85" lengthAdjust="spacingAndGlyphs">o</tspan><tspan x="842.51" textLength="9" lengthAdjust="spacingAndGlyphs">c</tspan><tspan x="851.72" textLength="10.02" lengthAdjust="spacingAndGlyphs">u</tspan><tspan x="862.35" textLength="6.81" lengthAdjust="spacingAndGlyphs">r</tspan><tspan x="869.22" textLength="6.81" lengthAdjust="spacingAndGlyphs">r</tspan><tspan x="876" textLength="10.07" lengthAdjust="spacingAndGlyphs">e</tspan><tspan x="886.41" textLength="10.01" lengthAdjust="spacingAndGlyphs">n</tspan><tspan x="896.89" textLength="9" lengthAdjust="spacingAndGlyphs">c</tspan><tspan x="906.46" textLength="8.66" lengthAdjust="spacingAndGlyphs">y</tspan> <tspan x="921.53" textLength="5.77" lengthAdjust="spacingAndGlyphs">f</tspan><tspan x="927.17" textLength="9.85" lengthAdjust="spacingAndGlyphs">o</tspan><tspan x="937.45" textLength="6.81" lengthAdjust="spacingAndGlyphs">r</tspan><tspan x="944.23" textLength="10.07" lengthAdjust="spacingAndGlyphs">e</tspan><tspan x="954.53" textLength="9" lengthAdjust="spacingAndGlyphs">c</tspan><tspan x="963.84" textLength="9.43" lengthAdjust="spacingAndGlyphs">a</tspan><tspan x="973.92" textLength="8.58" lengthAdjust="spacingAndGlyphs">s</tspan><tspan x="982.53" textLength="6.25" lengthAdjust="spacingAndGlyphs">t</tspan><tspan x="989.34" textLength="3.87" lengthAdjust="spacingAndGlyphs">i</tspan><tspan x="993.96" textLength="10.01" lengthAdjust="spacingAndGlyphs">n</tspan><tspan x="1004.77" textLength="9.63" lengthAdjust="spacingAndGlyphs">g</tspan> <tspan x="1020.33" textLength="8.58" lengthAdjust="spacingAndGlyphs">s</tspan><tspan x="1029.07" textLength="9.85" lengthAdjust="spacingAndGlyphs">o</tspan><tspan x="1039.31" textLength="10.02" lengthAdjust="spacingAndGlyphs">u</tspan><tspan x="1049.95" textLength="6.81" lengthAdjust="spacingAndGlyphs">r</tspan><tspan x="1056.75" textLength="9" lengthAdjust="spacingAndGlyphs">c</tspan><tspan x="1065.91" textLength="10.07" lengthAdjust="spacingAndGlyphs">e</tspan><tspan x="1076.18" textLength="8.58" lengthAdjust="spacingAndGlyphs">s</tspan></text>
</svg></body></html>
